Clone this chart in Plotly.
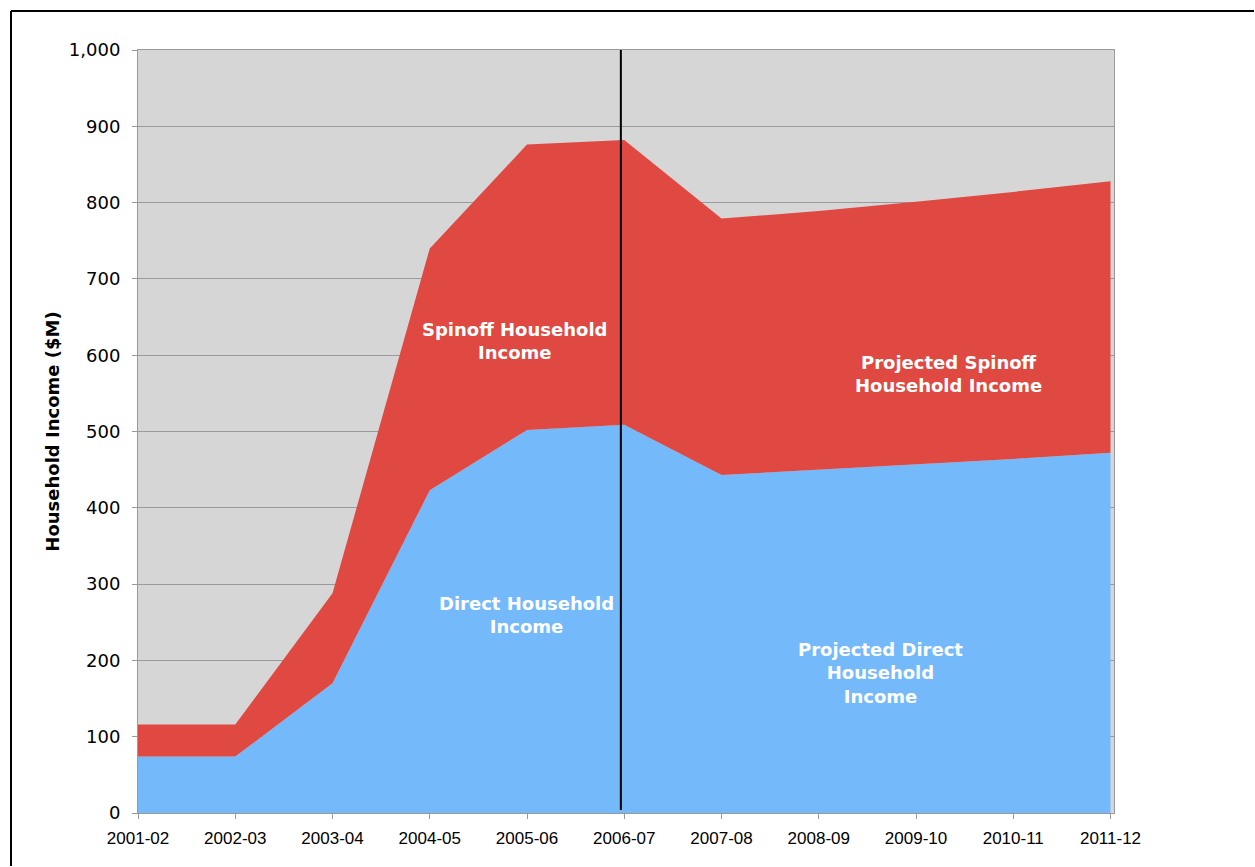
import plotly.graph_objects as go

# Fiscal years on the category axis
years = ["2001-02", "2002-03", "2003-04", "2004-05", "2005-06", "2006-07",
         "2007-08", "2008-09", "2009-10", "2010-11", "2011-12"]

# Household income ($M), stacked: direct at the bottom, spinoff on top
direct_income = [74, 74, 170, 423, 502, 509, 443, 450, 457, 464, 472]
spinoff_income = [42, 42, 118, 317, 374, 373, 336, 339, 344, 350, 356]

y_ticks = [0, 100, 200, 300, 400, 500, 600, 700, 800, 900, 1000]
y_tick_text = ["0", "100", "200", "300", "400", "500", "600", "700", "800", "900", "1,000"]

BLUE = "#74b9fa"
RED = "#e04842"
GRID = "#9a9a9a"

fig = go.Figure()
fig.add_trace(go.Scatter(
    x=years, y=direct_income, name="Direct Household Income",
    stackgroup="income", mode="lines", line=dict(width=0, color=BLUE),
    fillcolor=BLUE, hoverinfo="x+y",
))
fig.add_trace(go.Scatter(
    x=years, y=spinoff_income, name="Spinoff Household Income",
    stackgroup="income", mode="lines", line=dict(width=0, color=RED),
    fillcolor=RED, hoverinfo="x+y",
))

# Divider between actual and projected years
fig.add_shape(type="line", xref="x", yref="y", x0=4.965, x1=4.965, y0=4, y1=1000,
              line=dict(color="black", width=2), layer="above")

# Outer frame: left and top edges
fx0 = (11 - 138) / 976
fy1 = (813 - 11) / 763
fig.add_shape(type="line", xref="paper", yref="paper",
              x0=fx0, x1=fx0, y0=(813 - 866) / 763, y1=fy1,
              line=dict(color="black", width=2))
fig.add_shape(type="line", xref="paper", yref="paper",
              x0=fx0, x1=(1254 - 138) / 976, y0=fy1, y1=fy1,
              line=dict(color="black", width=2))

label_font = dict(family="DejaVu Sans", size=18, color="white")
labels = [
    (3.873, 618, "<b>Spinoff Household<br>Income</b>"),
    (3.997, 260, "<b>Direct Household<br>Income</b>"),
    (8.33, 575, "<b>Projected Spinoff<br>Household Income</b>"),
    (7.64, 184, "<b>Projected Direct<br>Household<br>Income</b>"),
]
for x, y, t in labels:
    fig.add_annotation(x=x, y=y, xref="x", yref="y", text=t, showarrow=False,
                       font=label_font, align="center")

fig.update_layout(
    width=1255, height=867,
    margin=dict(l=138, r=141, t=50, b=54),
    paper_bgcolor="white",
    plot_bgcolor="#d6d6d6",
    showlegend=False,
    xaxis=dict(
        type="category", range=[0, 10.036],
        showgrid=False, zeroline=False,
        showline=True, linecolor=GRID, linewidth=1, mirror=True,
        ticks="outside", ticklen=5, tickcolor=GRID,
        tickfont=dict(family="Liberation Sans Narrow, Liberation Sans", size=17, color="black"),
        ticklabelstandoff=5,
    ),
    yaxis=dict(
        range=[0, 1000], tickvals=y_ticks, ticktext=y_tick_text,
        showgrid=True, gridcolor=GRID, gridwidth=1, zeroline=False,
        showline=True, linecolor=GRID, linewidth=1, mirror=True,
        ticks="outside", ticklen=5, tickcolor=GRID,
        tickfont=dict(family="DejaVu Sans", size=18, color="black"),
        ticklabelstandoff=8,
        title=dict(text="<b>Household Income ($M)</b>",
                   font=dict(family="DejaVu Sans", size=18, color="black"),
                   standoff=4),
    ),
)

fig.write_html("out.html")
